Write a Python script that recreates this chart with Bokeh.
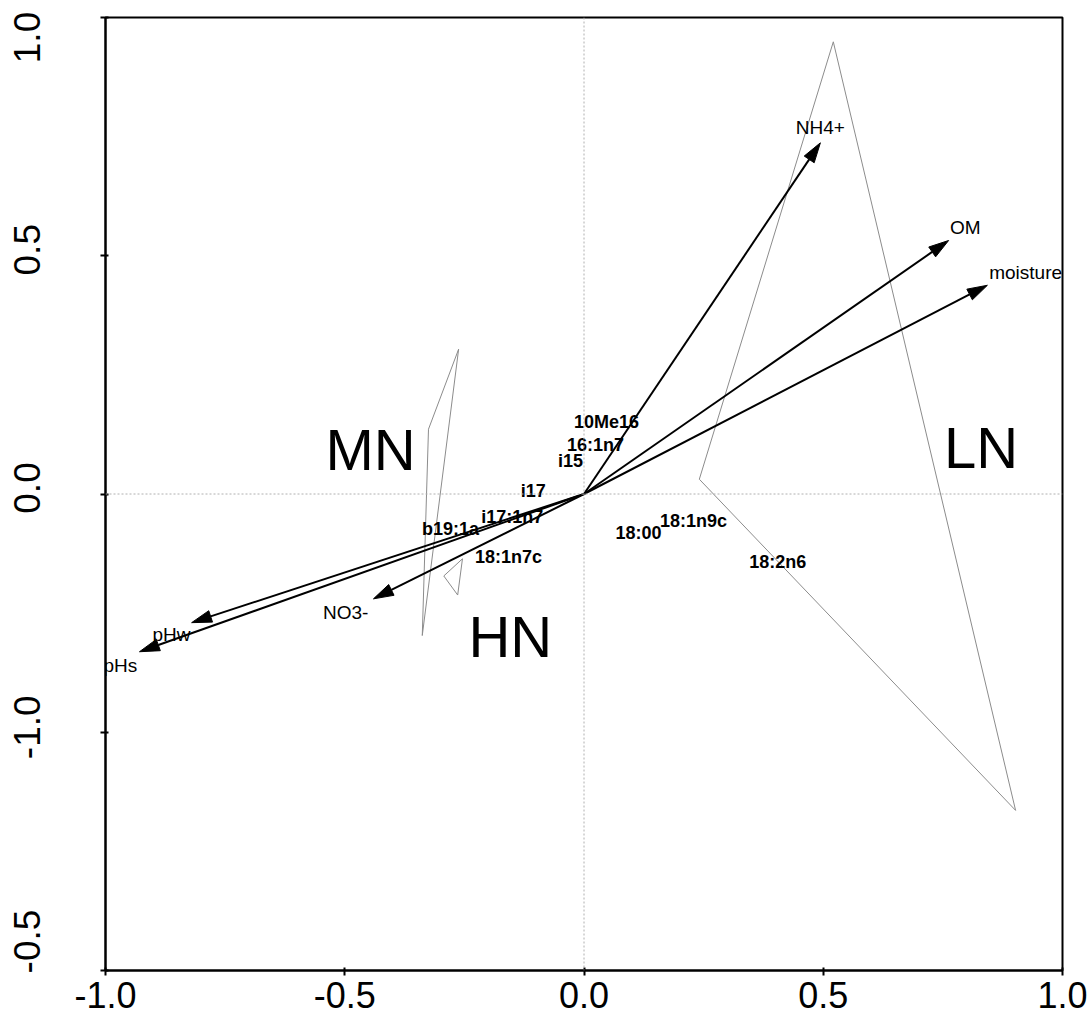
import numpy as np
from bokeh.plotting import figure
from bokeh.models import (ColumnDataSource, FixedTicker, Span, LinearAxis,
                          CustomJSTickFormatter, CustomLabelingPolicy)
from bokeh.core.properties import value
from bokeh.embed import file_html
from bokeh.resources import INLINE

# ---- data ----
env_names = ["NH4+", "OM", "moisture", "pHw", "pHs", "NO3-"]
env_x = [0.494, 0.762, 0.843, -0.820, -0.929, -0.440]
env_y = [0.737, 0.532, 0.438, -0.270, -0.331, -0.220]
env_lab_x = [0.494, 0.797, 0.923, -0.862, -0.969, -0.498]
env_lab_y = [0.769, 0.559, 0.465, -0.295, -0.360, -0.249]

sp_names = ["10Me16", "16:1n7", "i15", "i17", "i17:1n7", "b19:1a",
            "18:1n7c", "18:00", "18:1n9c", "18:2n6"]
sp_x = [0.047, 0.024, -0.028, -0.106, -0.150, -0.279, -0.158, 0.114, 0.229, 0.405]
sp_y = [0.151, 0.103, 0.069, 0.006, -0.048, -0.073, -0.132, -0.082, -0.057, -0.143]

groups = ["LN", "MN", "HN"]
group_lab_x = [0.830, -0.446, -0.154]
group_lab_y = [0.098, 0.094, -0.300]
hull_x = [[0.521, 0.241, 0.902], [-0.262, -0.325, -0.338], [-0.293, -0.254, -0.264]]
hull_y = [[0.949, 0.031, -0.664], [0.304, 0.136, -0.297], [-0.172, -0.136, -0.212]]

x_ticks = [-1.0, -0.5, 0.0, 0.5, 1.0]
x_tick_labels = ["-1.0", "-0.5", "0.0", "0.5", "1.0"]
y_ticks = [1.0, 0.5, 0.0, -0.5, -1.0]
y_tick_labels = ["1.0", "0.5", "0.0", "-1.0", "-0.5"]

# ---- style / layout ----
FONT = "Liberation Sans"
FW, FH = 957, 953
XR, YR = (-1.0, 1.0), (-1.0, 1.0)
px_x = FW / (XR[1] - XR[0])
px_y = FH / (YR[1] - YR[0])
y_label_shift_px = [-20, 6, 6, 5, 29]   # screen px, up positive; end labels kept inside
NEAREST = """let j = 0, best = 1e9;
for (let k = 0; k < pos.length; k++) { const d = Math.abs(tick - pos[k]); if (d < best) { best = d; j = k; } }
return labels[j];"""

p = figure(frame_width=FW, frame_height=FH, x_range=XR, y_range=YR,
           output_backend="svg", toolbar_location=None,
           min_border_left=105, min_border_top=17, min_border_right=29,
           min_border_bottom=53)
p.grid.visible = False
p.outline_line_color = "black"
p.outline_line_width = 2
p.background_fill_color = "white"
p.border_fill_color = "white"

for ax in (p.xaxis[0], p.yaxis[0]):
    ax.axis_line_width = 2
    ax.axis_line_color = "black"
    ax.major_tick_line_width = 2
    ax.major_tick_in = 3
    ax.major_tick_out = 5
    ax.minor_tick_line_color = None
    ax.major_label_text_font = FONT
    ax.major_label_text_color = "black"

p.xaxis.ticker = FixedTicker(ticks=x_ticks)
p.xaxis.formatter = CustomJSTickFormatter(args=dict(pos=x_ticks, labels=x_tick_labels),
                                          code=NEAREST)
p.xaxis.major_label_text_font_size = "36px"
p.xaxis.major_label_standoff = 6

# main y axis: line + ticks only (labels suppressed)
p.yaxis.ticker = FixedTicker(ticks=y_ticks)
p.yaxis.major_label_standoff = 0
p.yaxis.major_label_text_font_size = "1px"
p.yaxis.major_label_policy = CustomLabelingPolicy(code="return [];")

# label-only y axis, labels placed like the original
y_label_pos = [t + s / px_y for t, s in zip(y_ticks, y_label_shift_px)]
ylab = LinearAxis(ticker=FixedTicker(ticks=y_label_pos),
                  formatter=CustomJSTickFormatter(
                      args=dict(pos=y_label_pos, labels=y_tick_labels), code=NEAREST),
                  axis_line_color=None, major_tick_line_color=None,
                  major_tick_in=0, major_tick_out=0,
                  minor_tick_line_color=None, minor_tick_in=0, minor_tick_out=0,
                  major_label_orientation="vertical",
                  major_label_standoff=56, major_label_text_font=FONT,
                  major_label_text_font_size="37px", major_label_text_color="black")
p.add_layout(ylab, "left")

# zero lines
p.add_layout(Span(location=0, dimension="width", line_color="#b0b0b0",
                  line_width=1, line_dash="2 2"))
p.add_layout(Span(location=0, dimension="height", line_color="#b0b0b0",
                  line_width=1, line_dash="2 2"))

# hulls
hx = [list(h) + [h[0]] for h in hull_x]
hy = [list(h) + [h[0]] for h in hull_y]
p.multi_line(xs=hx, ys=hy, line_color="#8c8c8c", line_width=1)

# arrows: shaft + triangular head computed from vectors
head_len, head_half = 20.0, 6.0
ex = np.array(env_x); ey = np.array(env_y)
sx, sy = ex * px_x, ey * px_y
L = np.hypot(sx, sy)
ux, uy = sx / L, sy / L
bx, by = sx - ux * head_len, sy - uy * head_len
shaft = ColumnDataSource(dict(x0=[0.0] * len(ex), y0=[0.0] * len(ey),
                              x1=list(bx / px_x), y1=list(by / px_y)))
p.segment(x0="x0", y0="y0", x1="x1", y1="y1", source=shaft,
          line_color="black", line_width=2)
heads_x, heads_y = [], []
for i in range(len(ex)):
    px1 = bx[i] - uy[i] * head_half; py1 = by[i] + ux[i] * head_half
    px2 = bx[i] + uy[i] * head_half; py2 = by[i] - ux[i] * head_half
    heads_x.append([ex[i], px1 / px_x, px2 / px_x])
    heads_y.append([ey[i], py1 / px_y, py2 / px_y])
p.patches(xs=heads_x, ys=heads_y, fill_color="black", line_color="black", line_width=1)

# arrow labels
p.text(x=env_lab_x, y=env_lab_y, text=env_names, text_font=value(FONT),
       text_font_size="19px", text_align="center", text_baseline="middle",
       text_color="black")

# species labels
p.text(x=sp_x, y=sp_y, text=sp_names, text_font=value(FONT),
       text_font_size="18px", text_font_style="bold", text_align="center",
       text_baseline="middle", text_color="black")

# group labels
p.text(x=group_lab_x, y=group_lab_y, text=groups, text_font=value(FONT),
       text_font_size="58px", text_align="center", text_baseline="middle",
       text_color="black")

open("out.html", "w").write(file_html(p, INLINE))
